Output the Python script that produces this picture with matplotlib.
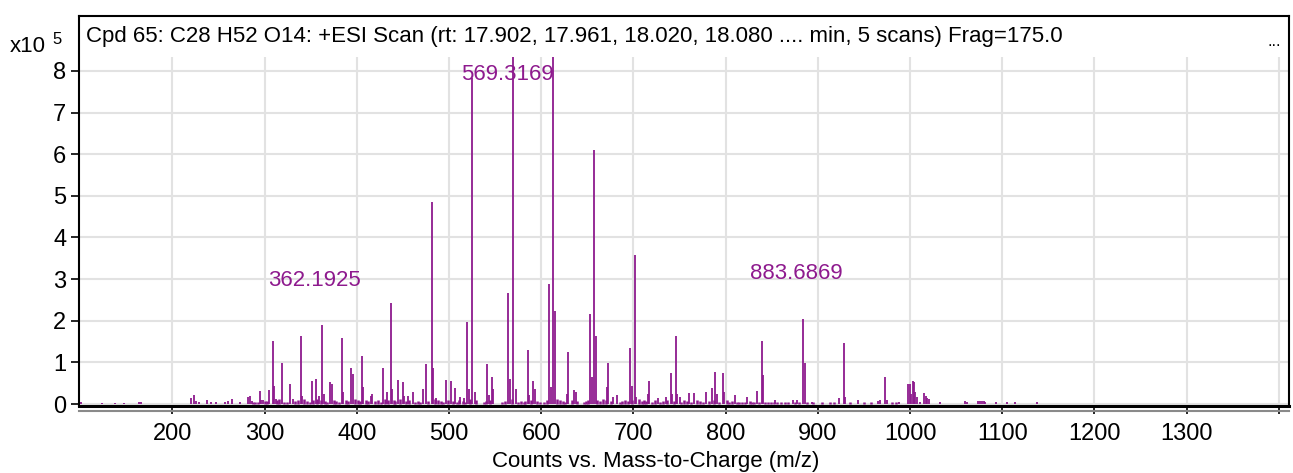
import matplotlib
matplotlib.use("Agg")
import matplotlib.pyplot as plt

plt.rcParams["font.family"] = ["Liberation Sans", "DejaVu Sans"]

# spectrum sticks: m/z and counts (x10^5)
peak_mz = [101, 123.4, 138.2, 148, 164.2, 166,
           220, 223.9, 226, 229, 237.3, 241.6, 247, 256.8, 260.8, 264.4, 273.7,
           282, 284.4, 286, 295, 296.5, 298.7,
           305.2, 308.9, 310.6, 312, 318.6, 328, 330.6, 339.6, 341, 351.2, 355.8,
           359.4, 362.7, 364.5, 371, 372.8, 383.7, 385.5, 393.8, 395.6,
           405.4, 407.2, 415.2, 417, 428.8, 432.4, 436.8, 438.6, 444.4, 449.8,
           451.6, 455.3, 460.7, 471.5, 475, 481.3, 483,
           486, 496.5, 502.2, 506.2, 512, 516.3, 519.8, 521.7, 525.3, 527.9,
           541, 543.4, 546.7, 548.1, 564.0, 566.2, 569.3, 572.7,
           585.4, 587.1, 591.5, 593.3, 608.5, 610.6, 613.3, 615.0,
           627.7, 629.6, 636, 637.8, 653.2, 654.8, 657.4, 659.2,
           671.7, 672.8, 678.3, 681.9, 696.3, 698.1, 701.5, 702.8,
           716.2, 717.3, 726.4, 735.4, 740.4, 742.2, 746.2, 747.6, 750.5,
           760.6, 766, 778.7, 784.8, 788.8, 791, 796.8, 798.2, 809.8,
           823.5, 833.7, 839.4, 840.9, 853.5, 872.7, 877.7, 883.7, 885.7, 893.3,
           923, 927.9, 929.8, 944, 965.6, 967.4, 972.8, 974.7, 988.4,
           997.4, 999.9, 1001.4, 1003.3, 1004.6, 1005.9, 1007.3, 1010.8,
           1015.1, 1017.1, 1018.8, 1020.5, 1032.5,
           1060, 1061.5, 1074, 1076, 1078, 1080, 1081.5, 1092.9, 1104.8,
           1114.2, 1137.6]
peak_int = [0.05, 0.03, 0.03, 0.03, 0.05, 0.04,
            0.14, 0.22, 0.08, 0.05, 0.10, 0.05, 0.05, 0.05, 0.08, 0.12, 0.05,
            0.18, 0.19, 0.08, 0.31, 0.10, 0.10,
            0.34, 1.52, 0.43, 0.12, 0.99, 0.48, 0.12, 1.64, 0.20, 0.56, 0.60,
            0.20, 1.90, 0.25, 0.52, 0.48, 1.59, 0.30, 0.87, 0.72,
            1.16, 0.40, 0.20, 0.25, 0.87, 0.30, 2.42, 0.35, 0.58, 0.52,
            0.20, 0.20, 0.30, 0.36, 0.95, 4.85, 0.86,
            0.15, 0.57, 0.56, 0.39, 0.18, 0.15, 1.98, 0.37, 7.82, 0.30,
            0.96, 0.22, 0.66, 0.35, 2.67, 0.60, 8.34, 0.37,
            1.30, 0.22, 0.55, 0.35, 2.88, 0.40, 8.34, 2.24,
            0.25, 1.24, 0.34, 0.30, 2.16, 0.66, 6.10, 1.64,
            0.40, 0.99, 0.18, 0.21, 1.34, 0.43, 3.57, 0.18,
            0.25, 0.56, 0.15, 0.18, 0.74, 0.25, 1.63, 0.25, 0.17,
            0.26, 0.26, 0.28, 0.39, 0.78, 0.25, 0.74, 0.28, 0.21,
            0.17, 0.31, 1.51, 0.70, 0.10, 0.10, 0.10, 2.03, 0.99, 0.04,
            0.14, 1.47, 0.17, 0.10, 0.07, 0.10, 0.66, 0.10, 0.05,
            0.48, 0.48, 0.25, 0.55, 0.52, 0.30, 0.18, 0.05,
            0.26, 0.20, 0.15, 0.12, 0.04,
            0.08, 0.05, 0.08, 0.08, 0.08, 0.08, 0.06, 0.04, 0.04,
            0.04, 0.04]

# low-level baseline sticks
grass_mz = [288, 290, 293, 300, 303, 314, 316, 321, 324, 333,
            336, 343, 346, 349, 353, 357, 361, 366, 368, 375,
            378, 381, 388, 391, 398, 401, 403, 410, 412, 420,
            423, 426, 431, 434, 440, 442, 447, 453, 457, 463,
            466, 469, 477, 485, 488, 491, 494, 499, 504, 509,
            511, 515, 517, 523, 529, 538, 540, 544, 558, 561,
            568, 575, 578, 581, 583, 589, 596, 599, 603, 606,
            617, 620, 624, 626, 633, 639, 646, 649, 651, 661,
            664, 667, 670, 676, 685, 688, 691, 694, 699, 706,
            709, 712, 714, 720, 723, 729, 732, 737, 744, 752,
            755, 758, 763, 769, 772, 775, 782, 787, 793, 801,
            804, 807, 812, 815, 818, 821, 826, 829, 831, 836,
            843, 846, 849, 852, 856, 860, 864, 868, 875, 880,
            888, 895, 905, 913, 918, 935, 950, 958, 980, 985]
grass_int = [0.05, 0.06, 0.04, 0.08, 0.08, 0.10, 0.12, 0.06, 0.05, 0.08,
             0.10, 0.12, 0.08, 0.06, 0.10, 0.12, 0.10, 0.08, 0.06, 0.10,
             0.08, 0.06, 0.10, 0.08, 0.12, 0.10, 0.08, 0.10, 0.08, 0.08,
             0.10, 0.06, 0.12, 0.10, 0.10, 0.08, 0.12, 0.08, 0.10, 0.06,
             0.08, 0.05, 0.08, 0.12, 0.10, 0.08, 0.05, 0.10, 0.08, 0.06,
             0.10, 0.08, 0.06, 0.12, 0.10, 0.06, 0.08, 0.10, 0.06, 0.08,
             0.12, 0.06, 0.08, 0.05, 0.08, 0.10, 0.08, 0.06, 0.06, 0.10,
             0.12, 0.10, 0.08, 0.06, 0.10, 0.08, 0.06, 0.08, 0.10, 0.10,
             0.08, 0.12, 0.10, 0.08, 0.06, 0.08, 0.10, 0.08, 0.10, 0.12,
             0.08, 0.10, 0.08, 0.06, 0.10, 0.06, 0.08, 0.10, 0.08, 0.06,
             0.10, 0.08, 0.06, 0.10, 0.08, 0.06, 0.08, 0.10, 0.06, 0.10,
             0.06, 0.08, 0.05, 0.06, 0.05, 0.06, 0.08, 0.06, 0.05, 0.06,
             0.05, 0.04, 0.05, 0.04, 0.06, 0.04, 0.05, 0.04, 0.04, 0.05,
             0.05, 0.04, 0.04, 0.05, 0.04, 0.04, 0.04, 0.04, 0.04, 0.05]

label_text = ["362.1925", "569.3169", "883.6869"]
label_x = [354.5, 563.2, 876.6]
label_y = [2.97, 7.91, 3.13]

x_ticks = [200, 300, 400, 500, 600, 700, 800, 900, 1000, 1100, 1200, 1300, 1400]
y_ticks = [0, 1, 2, 3, 4, 5, 6, 7, 8]

title = ("Cpd 65: C28 H52 O14: +ESI Scan (rt: 17.902, 17.961, 18.020, 18.080 "
         ".... min, 5 scans) Frag=175.0")

PURPLE = "#8e1a8e"
GRID = "#e2e2e2"

fig = plt.figure(figsize=(12.93, 4.73), dpi=100)
ax = fig.add_axes([79 / 1293, 1 - 406 / 473, (1289 - 79) / 1293, (406 - 16) / 473])
ax.set_xlim(98.8, 1411)
ax.set_ylim(-0.048, 9.32)
grid_top = 8.34

# grid: horizontal full width, vertical only up to the data area
for yv in y_ticks:
    ax.axhline(yv, color=GRID, lw=1.5, zorder=0)
ax.vlines(x_ticks, -0.048, grid_top, color=GRID, lw=1.5, zorder=0)

ax.vlines(grass_mz, 0, grass_int, color=PURPLE, lw=1.8, zorder=2)
ax.vlines(peak_mz, 0, peak_int, color=PURPLE, lw=1.3, zorder=2)

for t, xv, yv in zip(label_text, label_x, label_y):
    ax.text(xv, yv, t, color=PURPLE, fontsize=16, ha="center", va="center", zorder=1)

ax.text(0.006, 0.947, title, transform=ax.transAxes, fontsize=16,
        ha="left", va="center")
ax.text(0.993, 0.935, "...", transform=ax.transAxes, fontsize=12,
        ha="right", va="center")

ax.set_xticks(x_ticks)
ax.set_xticklabels([str(v) if v < 1400 else "" for v in x_ticks])
ax.set_yticks(y_ticks)
ax.tick_params(axis="both", labelsize=17, length=6, width=1.2, color="black")
ax.tick_params(axis="x", pad=6)
ax.tick_params(axis="y", pad=3)

for s in ["left", "top", "right"]:
    ax.spines[s].set_linewidth(1.5)
ax.spines["bottom"].set_linewidth(2.2)
# grey shadow under the x axis
ax.plot([0, 1], [-0.012, -0.012], transform=ax.transAxes, color="#8a8a8a",
        lw=1.5, clip_on=False, zorder=5)

fig.text(10 / 1293, 1 - 46 / 473, "x10", fontsize=16, ha="left", va="center")
fig.text(52 / 1293, 1 - 40 / 473, "5", fontsize=12, ha="left", va="center")
fig.text(656 / 1293, 1 - 461 / 473, "Counts vs. Mass-to-Charge (m/z)",
         fontsize=16, ha="center", va="center")

fig.savefig("out.png", dpi=100)
